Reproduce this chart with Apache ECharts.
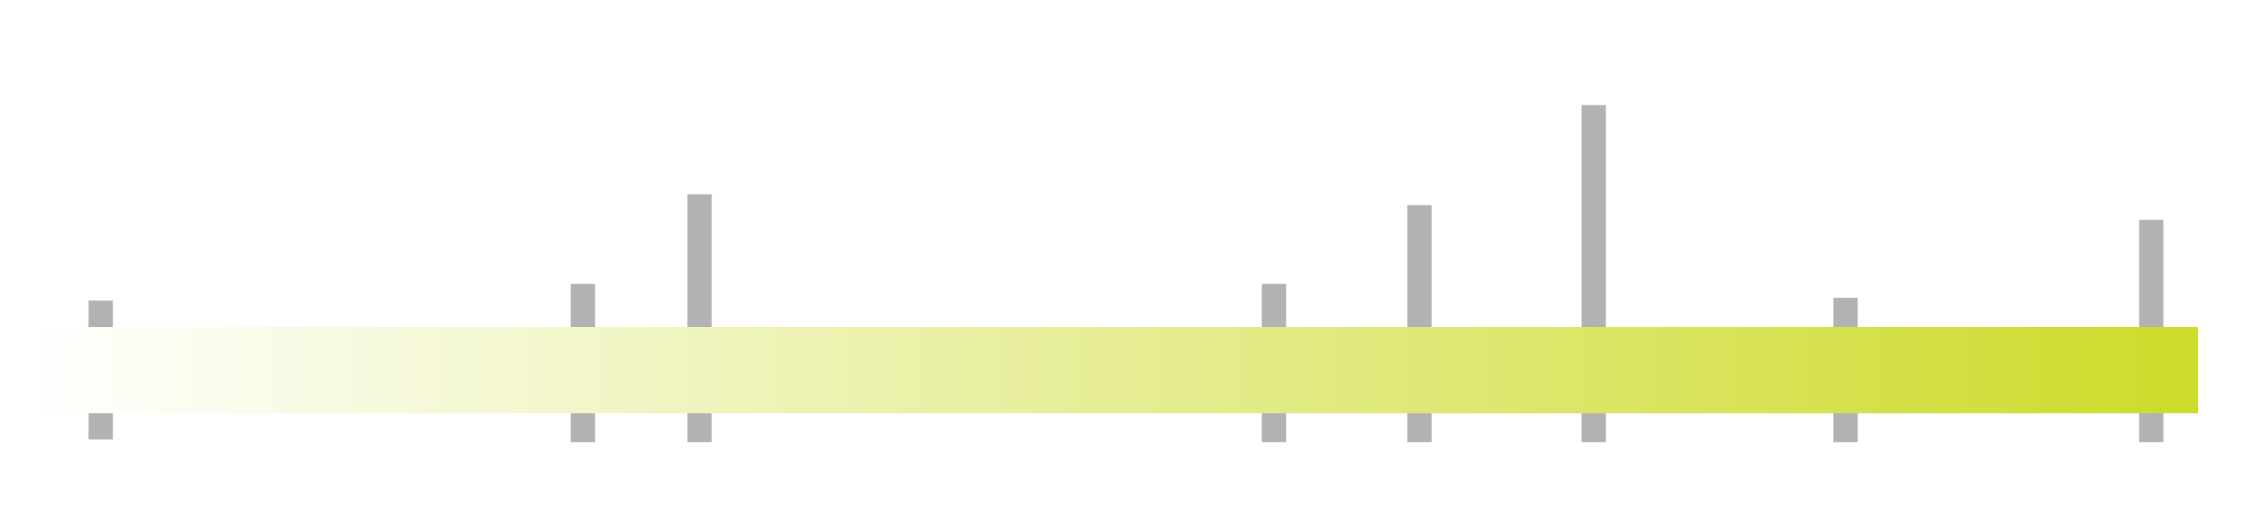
<!DOCTYPE html>
<html>
<head>
<meta charset="utf-8">
<script src="https://cdn.jsdelivr.net/npm/echarts@6/dist/echarts.min.js"></script>
<style>
  html, body { margin: 0; padding: 0; background: #ffffff; }
  #chart { width: 2265px; height: 514px; }
</style>
</head>
<body>
<div id="chart"></div>
<script>
// x positions of the bars (axis units 0..1000)
const xPositions = [31.3, 254.0, 307.9, 573.2, 640.4, 720.9, 837.2, 978.4];
// bar bottoms (base) and tops (axis units 0..100)
const barBases = [0.7, 0, 0, 0, 0, 0, 0, 0];
const barTops = [35.3, 39.5, 61.9, 39.5, 59.2, 84.2, 36.0, 55.5];
// horizontal band: x extent and y range
const bandX = [0, 1000];
const bandRange = [7.2, 28.75];

const barData = xPositions.map((x, i) => [x, barBases[i], barTops[i]]);
const BAR_WIDTH = 24;

const chart = echarts.init(document.getElementById('chart'), null, { renderer: 'canvas' });
chart.setOption({
  animation: false,
  backgroundColor: '#ffffff',
  grid: { left: 33, right: 67, top: 42, bottom: 72, containLabel: false },
  xAxis: { type: 'value', min: 0, max: 1000, show: false },
  yAxis: { type: 'value', min: 0, max: 100, show: false },
  series: [
    {
      type: 'custom', z: 1, silent: true,
      encode: { x: 0, y: [1, 2] },
      data: barData,
      renderItem: function (params, api) {
        const pb = api.coord([api.value(0), api.value(1)]);
        const pt = api.coord([api.value(0), api.value(2)]);
        return {
          type: 'rect',
          shape: { x: pb[0] - BAR_WIDTH / 2, y: pt[1], width: BAR_WIDTH, height: pb[1] - pt[1] },
          style: { fill: '#b2b2b2', stroke: '#c4c4c4', lineWidth: 0.6 }
        };
      }
    },
    {
      type: 'custom', z: 5, silent: true,
      encode: { x: [0, 2], y: [1, 3] },
      data: [[bandX[0], bandRange[0], bandX[1], bandRange[1]]],
      renderItem: function (params, api) {
        const p0 = api.coord([api.value(0), api.value(1)]);
        const p1 = api.coord([api.value(2), api.value(3)]);
        return {
          type: 'rect',
          shape: { x: p0[0], y: p1[1], width: p1[0] - p0[0], height: p0[1] - p1[1] },
          style: {
            fill: new echarts.graphic.LinearGradient(0, 0, 1, 0, [
              { offset: 0, color: '#ffffff' },
              { offset: 1, color: '#cddb2a' }
            ])
          }
        };
      }
    }
  ]
});
</script>
</body>
</html>
